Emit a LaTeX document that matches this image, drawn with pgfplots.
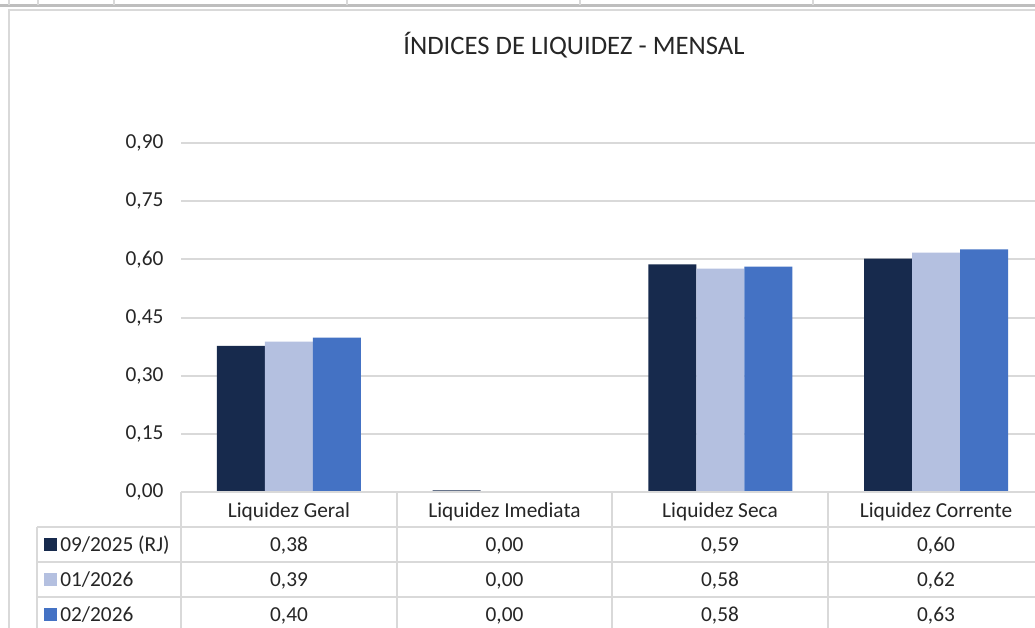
\documentclass[border=0pt]{standalone}
\usepackage{pgfplots}
\pgfplotsset{compat=1.18}
\usepackage{fontspec}
\setmainfont{Carlito}
\definecolor{c1}{HTML}{172A4D}
\definecolor{c2}{HTML}{B4C0E0}
\definecolor{c3}{HTML}{4472C4}
\definecolor{grd}{HTML}{D9D9D9}
\definecolor{txt}{HTML}{262626}
\begin{document}
\begin{tikzpicture}[x=0.75pt,y=-0.75pt]
\fill[white] (0,0) rectangle (1035,628);
% spreadsheet strip above the chart
\draw[grd!70!gray, line width=2.25pt] (0,5.5) -- (1035,5.5);
\foreach \xx in {9,38,114,347,580,813} \draw[grd, line width=1pt] (\xx,0) -- (\xx,4.5);
% chart frame
\draw[grd, line width=1.5pt] (9,640) -- (9,10) -- (1045,10);
% title
\node[txt, font=\fontsize{20}{24}\selectfont] at (574,45) {ÍNDICES DE LIQUIDEZ - MENSAL};
\begin{axis}[
  at={(135.75pt,-369pt)}, anchor=south west,
  scale only axis, width=647.25pt, height=261.75pt,
  xmin=-0.5, xmax=3.5, ymin=0, ymax=0.9,
  ytick={0,0.15,0.3,0.45,0.6,0.75,0.9},
  xtick=\empty,
  axis line style={draw=none},
  major tick length=0pt,
  ymajorgrids, grid style={grd, line width=1.5pt},
  yticklabel style={txt, font=\fontsize{16}{19}\selectfont, anchor=east, inner sep=0pt, xshift=-13pt,
    /pgf/number format/.cd, fixed, fixed zerofill, precision=2, use comma, assume math mode=true},
  clip=false,
]
\addplot[ybar, bar width=0.2222, bar shift=-0.2222, fill=c1, draw=none] coordinates {(0,0.377) (1,0.004) (2,0.587) (3,0.602)};
\addplot[ybar, bar width=0.2222, bar shift=0, fill=c2, draw=none] coordinates {(0,0.388) (1,0) (2,0.576) (3,0.617)};
\addplot[ybar, bar width=0.2222, bar shift=0.2222, fill=c3, draw=none] coordinates {(0,0.398) (1,0) (2,0.581) (3,0.626)};
\end{axis}
% data table grid
\begin{scope}[grd, line width=1.5pt]
\draw (181,492) -- (1045,492);
\foreach \yy in {527,562,597} \draw (37,\yy) -- (1045,\yy);
\draw (37,527) -- (37,640);
\foreach \xx in {181,397,612,828,1044} \draw (\xx,492) -- (\xx,640);
\end{scope}
\begin{scope}[every node/.style={txt, font=\fontsize{16}{19}\selectfont, inner sep=0pt}]
\node[anchor=base] at (289,517) {Liquidez Geral};
\node[anchor=base] at (504.5,517) {Liquidez Imediata};
\node[anchor=base] at (720,517) {Liquidez Seca};
\node[anchor=base] at (936,517) {Liquidez Corrente};
% rows
\fill[c1] (44,537.5) rectangle (57,550.5);
\node[anchor=base west] at (60,551) {09/2025 (RJ)};
\node[anchor=base] at (289,551) {0,38};
\node[anchor=base] at (504.5,551) {0,00};
\node[anchor=base] at (720,551) {0,59};
\node[anchor=base] at (936,551) {0,60};
\fill[c2] (44,572.5) rectangle (57,585.5);
\node[anchor=base west] at (60,586) {01/2026};
\node[anchor=base] at (289,586) {0,39};
\node[anchor=base] at (504.5,586) {0,00};
\node[anchor=base] at (720,586) {0,58};
\node[anchor=base] at (936,586) {0,62};
\fill[c3] (44,607.5) rectangle (57,620.5);
\node[anchor=base west] at (60,621) {02/2026};
\node[anchor=base] at (289,621) {0,40};
\node[anchor=base] at (504.5,621) {0,00};
\node[anchor=base] at (720,621) {0,58};
\node[anchor=base] at (936,621) {0,63};
\end{scope}
\pgfresetboundingbox
\useasboundingbox (0,0) rectangle (1035,628);
\end{tikzpicture}
\end{document}
